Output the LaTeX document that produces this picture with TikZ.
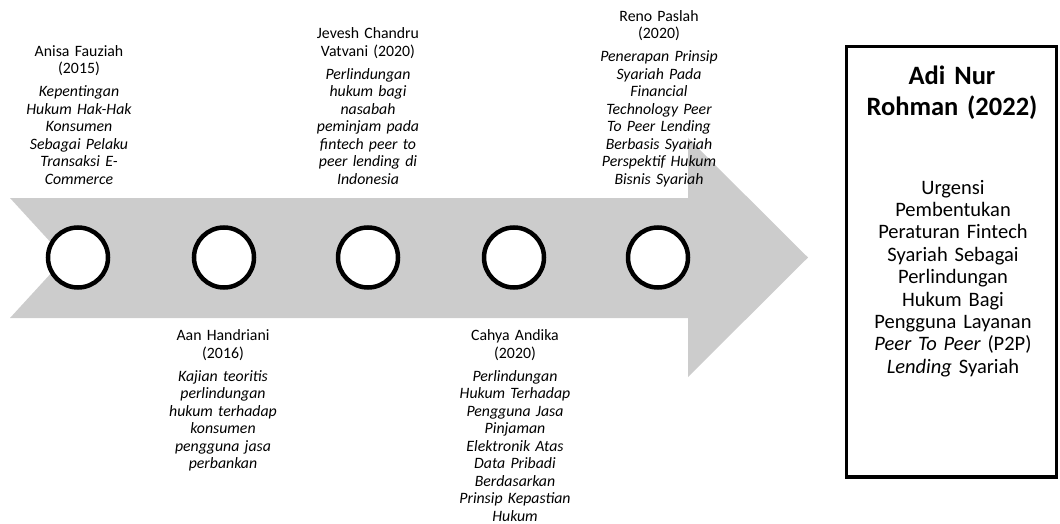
\documentclass[tikz,border=0pt]{standalone}
\usepackage{fontspec}
\setmainfont{Carlito}
\definecolor{arrowgray}{HTML}{CCCCCC}
\tikzset{
  dot/.style={circle, draw=black, fill=white, line width=4.5pt, minimum size=60pt, inner sep=0pt},
  lbl/.style={text width=160pt, align=center, inner sep=0pt, font=\fontsize{15.8}{17.5}\selectfont},
  resultbox/.style={draw=black, line width=3.5pt, minimum width=210pt, minimum height=430.5pt, inner sep=0pt},
  ttl/.style={text width=200pt, align=center, inner sep=0pt, font=\fontsize{26.5}{31}\selectfont\bfseries},
  bodytxt/.style={text width=200pt, align=center, inner sep=0pt, font=\fontsize{20.5}{22.4}\selectfont}
}
\begin{document}
\begin{tikzpicture}[x=1pt,y=-1pt]
\useasboundingbox (0,0) rectangle (1060,524);
% big chevron arrow
\fill[arrowgray] (10,198) -- (688,198) -- (688,138) -- (808,257.5) -- (688,377) -- (688,318) -- (10,318) -- (65,258) -- cycle;
% milestones
\node[dot] (c1) at (78,257.5) {};
\node[dot] (c2) at (224,257.5) {};
\node[dot] (c3) at (368,257.5) {};
\node[dot] (c4) at (514,257.5) {};
\node[dot] (c5) at (658,257.5) {};
% upper labels
\node[lbl, anchor=south] (t1) at (79,189.75) {\strut Anisa Fauziah\\(2015)\\[5.5pt]\itshape Kepentingan\\Hukum Hak-Hak\\Konsumen\\Sebagai Pelaku\\Transaksi E-\\Commerce\strut};
\node[lbl, anchor=south] (t3) at (368,189.75) {\strut Jevesh Chandru\\Vatvani (2020)\\[5.5pt]\itshape Perlindungan\\hukum bagi\\nasabah\\peminjam pada\\fintech peer to\\peer lending di\\Indonesia\strut};
\node[lbl, anchor=south] (t5) at (659,189.75) {\strut Reno Paslah\\(2020)\\[5.5pt]\itshape Penerapan Prinsip\\Syariah Pada\\Financial\\Technology Peer\\To Peer Lending\\Berbasis Syariah\\Perspektif Hukum\\Bisnis Syariah\strut};
% lower labels
\node[lbl, anchor=north] (t2) at (223,328.25) {\strut Aan Handriani\\(2016)\\[5.5pt]\itshape Kajian teoritis\\perlindungan\\hukum terhadap\\konsumen\\pengguna jasa\\perbankan\strut};
\node[lbl, anchor=north] (t4) at (515,328.25) {\strut Cahya Andika\\(2020)\\[5.5pt]\itshape Perlindungan\\Hukum Terhadap\\Pengguna Jasa\\Pinjaman\\Elektronik Atas\\Data Pribadi\\Berdasarkan\\Prinsip Kepastian\\Hukum\strut};
% result box
\node[resultbox] (box) at (951.5,261.75) {};
\node[ttl, anchor=north] (boxtitle) at (952,62.3) {\strut Adi Nur\\Rohman (2022)};
\node[bodytxt, anchor=north] (boxbody) at (953,178.3) {\strut Urgensi\\Pembentukan\\Peraturan Fintech\\Syariah Sebagai\\Perlindungan\\Hukum Bagi\\Pengguna Layanan\\\textit{Peer To Peer} (P2P)\\\textit{Lending} Syariah};
\end{tikzpicture}
\end{document}
